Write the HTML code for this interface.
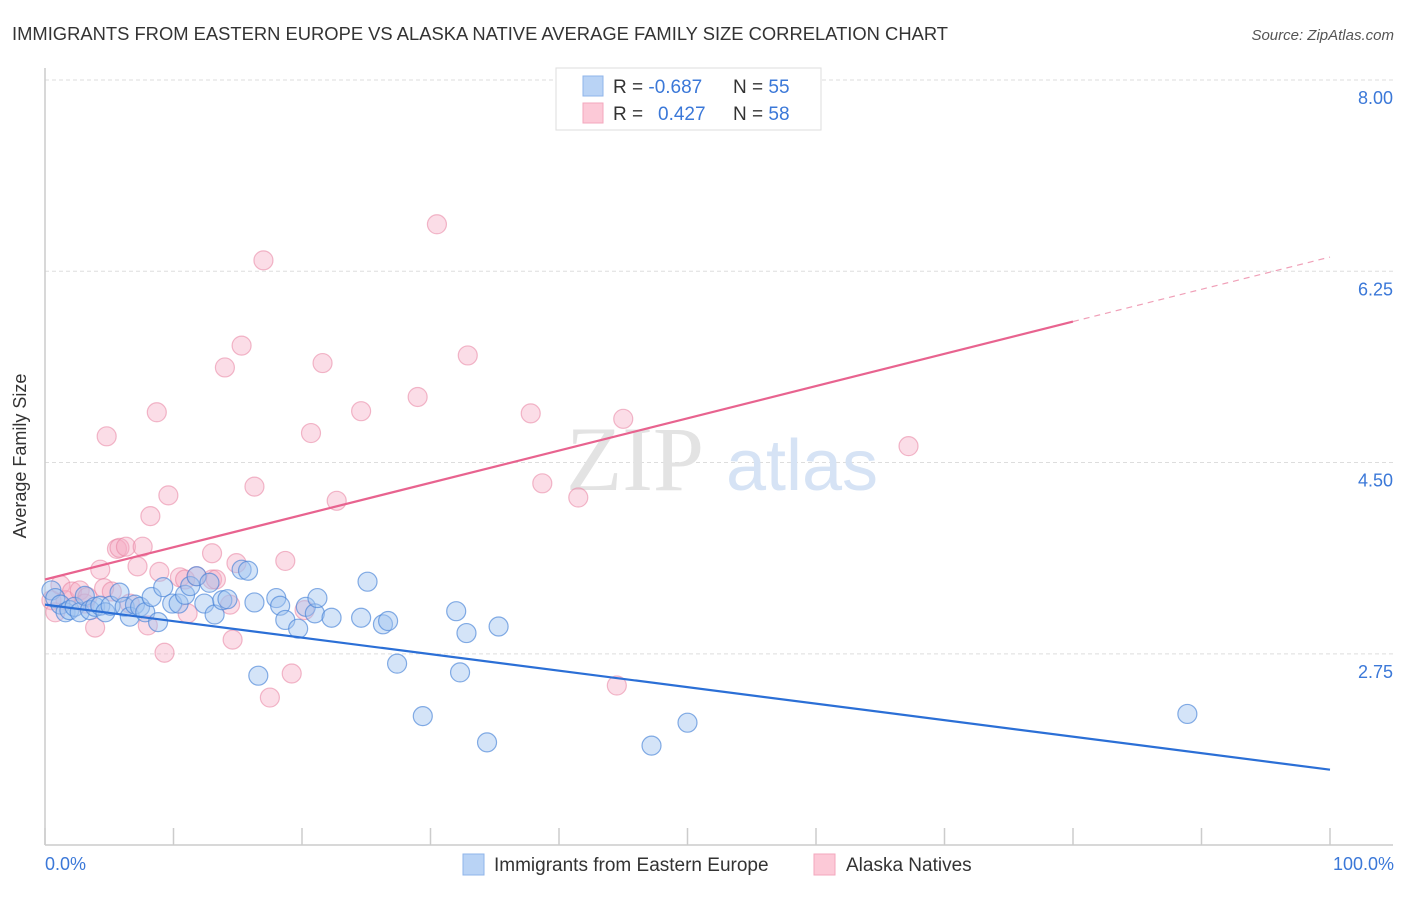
<!DOCTYPE html>
<html><head><meta charset="utf-8"><style>
body{margin:0;background:#fff;font-family:"Liberation Sans",sans-serif;}
svg text{font-family:"Liberation Sans",sans-serif;}
</style></head><body>
<svg width="1406" height="892" xmlns="http://www.w3.org/2000/svg">
<text x="12" y="40" font-size="18" fill="#333" textLength="936" lengthAdjust="spacingAndGlyphs">IMMIGRANTS FROM EASTERN EUROPE VS ALASKA NATIVE AVERAGE FAMILY SIZE CORRELATION CHART</text>
<text x="1394" y="40" font-size="15" fill="#555" font-style="italic" text-anchor="end">Source: ZipAtlas.com</text>
<g id="grid"></g>
<g>
<text x="635" y="490" font-size="92" fill="#e3e3e3" font-family="Liberation Serif" style="font-family:'Liberation Serif',serif" text-anchor="middle">ZIP</text>
<text x="802" y="490" font-size="72" fill="#d6e3f5" text-anchor="middle">atlas</text>
</g>
<line x1="45" y1="68" x2="45" y2="845" stroke="#ccc" stroke-width="1.5"/>
<line x1="45" y1="845" x2="1393" y2="845" stroke="#ccc" stroke-width="1.5"/>
<g id="ticks"></g>
<text x="26" y="456" font-size="18" fill="#333" text-anchor="middle" transform="rotate(-90 26 456)">Average Family Size</text>
<text x="45" y="870" font-size="18" fill="#3b78d8">0.0%</text>
<text x="1394" y="870" font-size="18" fill="#3b78d8" text-anchor="end">100.0%</text>
<g id="pink"></g><g id="blue"></g><g id="lines"></g>
<g>
<rect x="556" y="68" width="265" height="62" fill="#fff" stroke="#ddd"/>
<rect x="583" y="76" width="20" height="20" fill="#b9d3f5" stroke="#8fb5ea"/>
<rect x="583" y="103" width="20" height="20" fill="#fcc9d7" stroke="#f3a7bd"/>
<text x="613" y="93" font-size="19" fill="#333">R = <tspan fill="#3b78d8">-0.687</tspan><tspan x="733">N = </tspan><tspan fill="#3b78d8">55</tspan></text>
<text x="613" y="120" font-size="19" fill="#333">R = <tspan x="658" fill="#3b78d8">0.427</tspan><tspan x="733">N = </tspan><tspan fill="#3b78d8">58</tspan></text>
</g>
<g>
<rect x="463" y="854" width="21" height="21" fill="#b9d3f5" stroke="#8fb5ea"/>
<text x="494" y="871" font-size="19" fill="#333">Immigrants from Eastern Europe</text>
<rect x="814" y="854" width="21" height="21" fill="#fcc9d7" stroke="#f3a7bd"/>
<text x="846" y="871" font-size="19" fill="#333">Alaska Natives</text>
</g>
</svg>
<script>
const yTicks=[8.00,6.25,4.50,2.75];
const blueX=[0.5,0.8,1.2,1.6,1.9,2.3,2.7,3.1,3.5,3.9,4.3,4.7,5.1,5.8,6.2,6.6,7.0,7.4,7.8,8.3,8.8,9.2,9.9,10.4,10.9,11.3,11.8,12.4,12.8,13.2,13.8,14.2,15.3,15.8,16.3,16.6,18.0,18.3,18.7,19.7,20.3,21.0,21.2,22.3,24.6,25.1,26.3,26.7,27.4,29.4,32.0,32.3,32.8,34.4,35.3,47.2,50.0,88.9];
const blueY=[3.33,3.26,3.20,3.13,3.15,3.18,3.13,3.28,3.15,3.18,3.19,3.13,3.19,3.31,3.18,3.09,3.20,3.18,3.13,3.27,3.04,3.36,3.21,3.21,3.29,3.37,3.46,3.21,3.40,3.11,3.24,3.25,3.52,3.51,3.22,2.55,3.26,3.19,3.06,2.98,3.18,3.12,3.26,3.08,3.08,3.41,3.02,3.05,2.66,2.18,3.14,2.58,2.94,1.94,3.00,1.91,2.12,2.20];
const pinkX=[0.5,0.8,1.2,1.6,2.1,2.7,3.1,3.3,3.9,4.3,4.6,4.8,5.2,5.6,5.8,6.3,6.6,7.2,7.6,8.0,8.7,8.9,9.3,9.6,8.2,10.5,10.9,11.1,11.8,13.0,13.0,13.3,14.0,14.4,14.6,14.9,15.3,16.3,17.0,17.5,18.7,19.2,20.2,20.7,21.6,22.7,24.6,29.0,30.5,32.9,37.8,38.7,41.5,44.5,45.0,67.2];
const pinkY=[3.24,3.13,3.38,3.24,3.32,3.33,3.21,3.27,2.99,3.52,3.35,4.74,3.32,3.71,3.72,3.73,3.21,3.55,3.73,3.01,4.96,3.50,2.76,4.20,4.01,3.45,3.43,3.12,3.46,3.67,3.43,3.43,5.37,3.20,2.88,3.58,5.57,4.28,6.35,2.35,3.60,2.57,3.15,4.77,5.41,4.15,4.97,5.10,6.68,5.48,4.95,4.31,4.18,2.46,4.90,4.65];
const blueTrend=[3.20,1.69];
const pinkTrend=[3.43,6.38];
const pinkSolidEnd=80;
const NS='http://www.w3.org/2000/svg';
const sx=v=>45+v*12.85;
const sy=v=>80+(8-v)*109.3;
function mk(tag,attrs,parent){const e=document.createElementNS(NS,tag);for(const k in attrs)e.setAttribute(k,attrs[k]);document.getElementById(parent).appendChild(e);return e;}
yTicks.forEach(t=>{
 const g=mk('line',{x1:45,x2:1393,y1:sy(t),y2:sy(t),stroke:'#ddd','stroke-dasharray':'4,3'},'grid');
 
 
 const l=mk('text',{x:1393,y:sy(t)+24,'font-size':18,fill:'#3b78d8','text-anchor':'end'},'grid');
 l.textContent=t.toFixed(2);
 
 
});
for(let i=0;i<=10;i++){
 const t=mk('line',{x1:sx(i*10),x2:sx(i*10),y1:828,y2:845,stroke:'#ccc','stroke-width':1.5},'ticks');
 
 
}
pinkX.forEach((x,i)=>{
 const c=mk('circle',{cx:sx(x),cy:sy(pinkY[i]),r:9.5,fill:'rgba(245,170,195,0.4)',stroke:'rgba(232,130,160,0.55)','stroke-width':1.2},'pink');
 
 
});
blueX.forEach((x,i)=>{
 const c=mk('circle',{cx:sx(x),cy:sy(blueY[i]),r:9.5,fill:'rgba(160,195,240,0.45)',stroke:'rgba(70,130,215,0.65)','stroke-width':1.2},'blue');
 
 
});
const bl=mk('line',{x1:sx(0),y1:sy(blueTrend[0]),x2:sx(100),y2:sy(blueTrend[1]),stroke:'#2b6fd6','stroke-width':2.2},'lines');


const pe=pinkTrend[0]+(pinkTrend[1]-pinkTrend[0])*pinkSolidEnd/100;
const pl=mk('line',{x1:sx(0),y1:sy(pinkTrend[0]),x2:sx(pinkSolidEnd),y2:sy(pe),stroke:'#e8638f','stroke-width':2.2},'lines');


const pd=mk('line',{x1:sx(pinkSolidEnd),y1:sy(pe),x2:sx(100),y2:sy(pinkTrend[1]),stroke:'#f0a0b8','stroke-width':1.2,'stroke-dasharray':'6,5'},'lines');


</script>
</body></html>
